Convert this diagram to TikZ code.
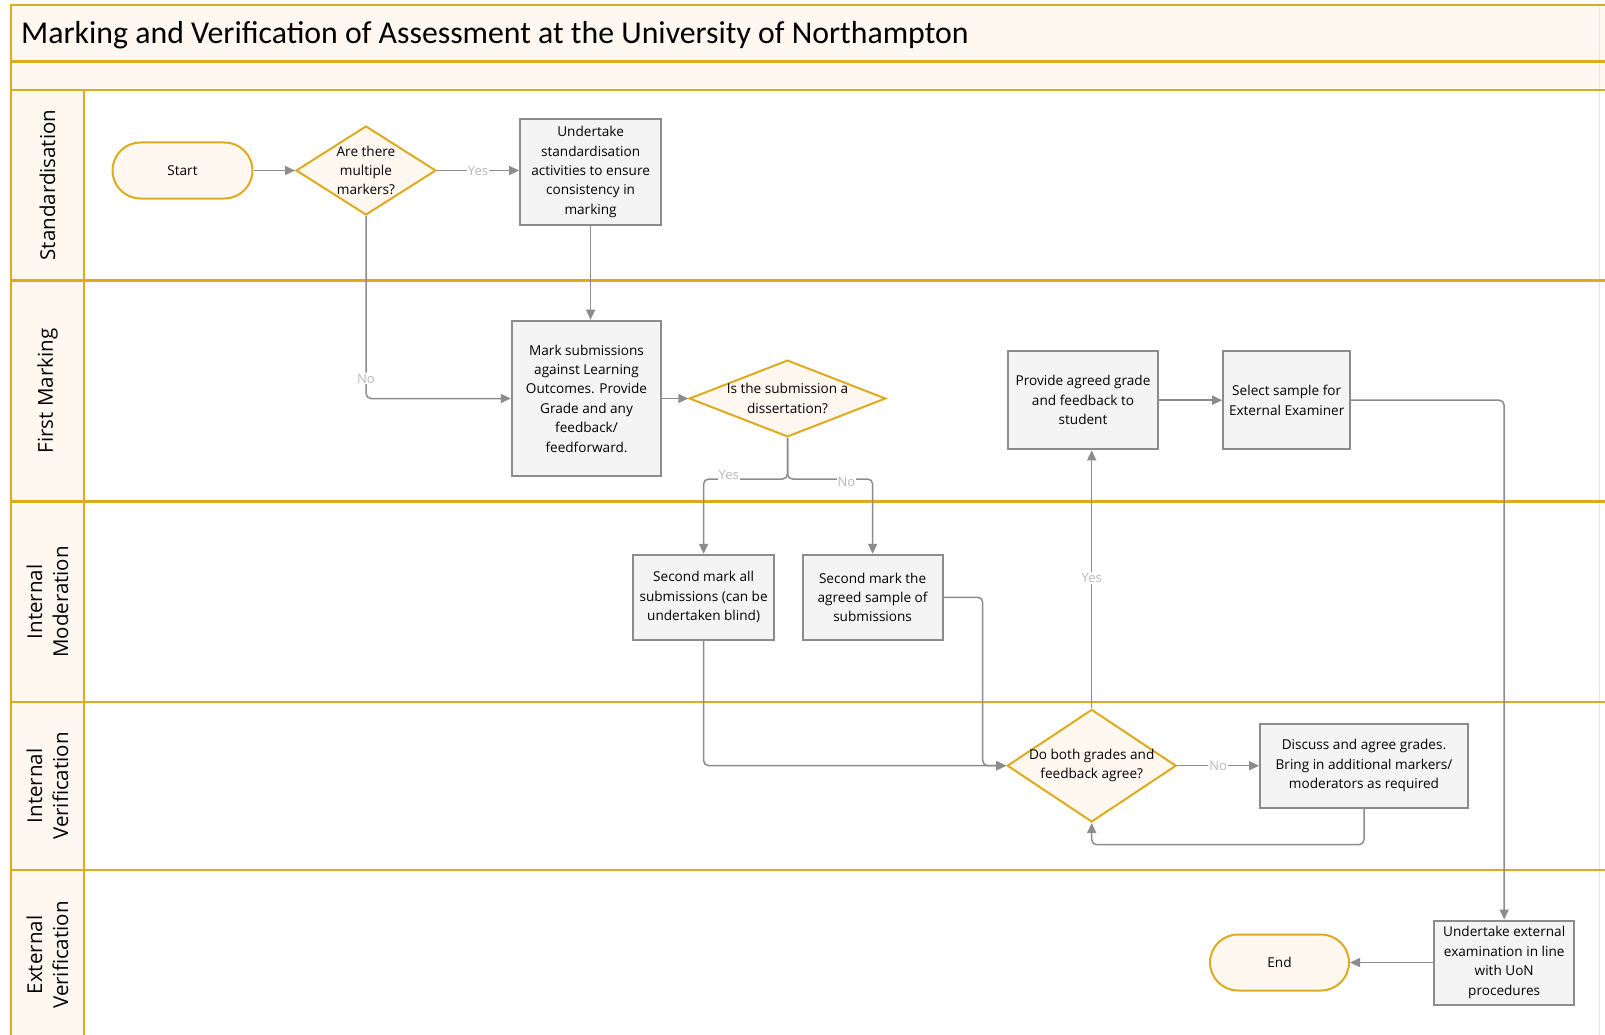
\documentclass[tikz,border=0pt]{standalone}
\usepackage{fontspec}
\setmainfont{Open Sans}
\newfontfamily\titlefont{Carlito}
\usetikzlibrary{arrows.meta,shapes.geometric,calc}
\definecolor{lanec}{RGB}{222,170,30}
\definecolor{cream}{RGB}{254,248,241}
\definecolor{boxf}{RGB}{244,244,244}
\definecolor{boxc}{RGB}{140,140,140}
\definecolor{arrc}{RGB}{140,140,140}
\definecolor{labc}{RGB}{185,185,185}
\tikzset{
  ntext/.style={font=\fontsize{13.6}{19.4}\selectfont, align=center},
  procbox/.style={draw=boxc, fill=boxf, line width=2pt, inner sep=0pt, ntext},
  decbox/.style={diamond, draw=lanec, fill=cream, line width=2pt, inner sep=0pt},
  dlabel/.style={ntext},
  termbox/.style={draw=lanec, fill=cream, line width=2pt, rounded corners=28pt, minimum width=140pt, minimum height=56pt, ntext},
  conn/.style={draw=arrc, line width=1.5pt, rounded corners=5pt, -{Triangle[length=10pt,width=9pt]}},
  lbl/.style={font=\fontsize{13}{15}\selectfont, text=labc, fill=white, inner sep=1pt},
  lanetext/.style={font=\fontsize{20.5}{26}\selectfont, align=center, rotate=90},
  laneline/.style={draw=lanec, line width=2.5pt}
}
\begin{document}
\begin{tikzpicture}[x=1pt,y=-1pt]
\useasboundingbox (0,0) rectangle (1605,1035);
% backgrounds
\fill[cream] (11,5) rectangle (1605,90);
\fill[cream] (11,90) rectangle (84,1035);
\draw[black!10, line width=0.8pt] (1599,5) -- (1599,1035);
% lane lines
\draw[laneline] (11,1035) -- (11,5) -- (1605,5);
\foreach \yy in {61.4,90,280.5,501.6,702,870} \draw[laneline] (11,\yy) -- (1605,\yy);
\draw[laneline] (84,90) -- (84,1035);
% title
\node[anchor=base west, font=\titlefont\fontsize{31.8}{34}\selectfont, inner sep=0pt] (title) at (21,43.5) {Marking and Verification of Assessment at the University of Northampton};
% lane labels
\node[lanetext] (l1) at (47.5,185) {Standardisation};
\node[lanetext] (l2) at (47.5,391) {First Marking};
\node[lanetext] (l3) at (47.5,602) {Internal\\Moderation};
\node[lanetext] (l4) at (47.5,786) {Internal\\Verification};
\node[lanetext] (l5) at (47.5,955) {External\\Verification};
% nodes
\node[termbox] (start) at (182.5,170.5) {Start};
\node[decbox, minimum width=140pt, minimum height=89pt, label={[dlabel]center:Are there\\multiple\\markers?}] (d1) at (366,170.5) {};
\node[procbox, minimum width=141pt, minimum height=106.5pt] (u) at (590.6,172) {Undertake\\standardisation\\activities to ensure\\consistency in\\marking};
\node[procbox, minimum width=149.4pt, minimum height=155.6pt] (mark) at (586.5,398.5) {Mark submissions\\against Learning\\Outcomes. Provide\\Grade and any\\feedback/\\feedforward.};
\node[decbox, minimum width=196.5pt, minimum height=76.8pt, label={[dlabel]center:Is the submission a\\dissertation?}] (d2) at (787.5,398.5) {};
\node[procbox, minimum width=141.3pt, minimum height=85pt] (sm1) at (703.6,597.3) {Second mark all\\submissions (can be\\undertaken blind)};
\node[procbox, minimum width=140.2pt, minimum height=85pt] (sm2) at (872.6,597.3) {Second mark the\\agreed sample of\\submissions};
\node[procbox, minimum width=149.5pt, minimum height=98.3pt] (provide) at (1083,400.2) {Provide agreed grade\\and feedback to\\student};
\node[procbox, minimum width=127pt, minimum height=98.3pt] (select) at (1286.7,400.2) {Select sample for\\External Examiner};
\node[decbox, minimum width=169pt, minimum height=112.6pt, label={[dlabel]center:Do both grades and\\feedback agree?}] (d3) at (1091.7,765.7) {};
\node[procbox, minimum width=207.8pt, minimum height=84pt] (discuss) at (1364,765.7) {Discuss and agree grades.\\Bring in additional markers/\\moderators as required};
\node[procbox, minimum width=140.2pt, minimum height=84pt] (ue) at (1504.2,962.5) {Undertake external\\examination in line\\with UoN\\procedures};
\node[termbox, minimum width=139pt] (end) at (1279.5,962.5) {End};
% connectors
\coordinate (split) at (787.5,479);
\draw[conn] (start) -- (d1);
\draw[conn] (d1) -- node[lbl]{Yes} (d1 -| u.west);
\draw[conn] (d1.south) |- node[lbl, pos=0.445]{No} (mark.west);
\draw[conn] (u.south) -- (u.south |- mark.north);
\draw[conn] (mark) -- (d2);
\draw[conn] (d2.south) -- (split) -| (sm1.north);
\draw[conn] (d2.south) -- (split) -| (sm2.north);
\node[lbl] (yes2) at (728.8,475) {Yes};
\node[lbl] (no2) at (846.5,482) {No};
\draw[conn] (sm1.south) |- (d3.west);
\draw[conn] (sm2.east) -- ++(39,0) |- (d3.west);
\draw[conn] (d3.north) -- node[lbl, pos=0.505]{Yes} (d3.north |- provide.south);
\draw[conn] (d3.east) -- node[lbl]{No} (discuss.west);
\draw[conn] (discuss.south) -- ++(0,36) -| (d3.south);
\draw[conn] (provide) -- (select);
\draw[conn] (select.east) -| (ue.north);
\draw[conn] (ue.west) -- (end.east);
\end{tikzpicture}
\end{document}
